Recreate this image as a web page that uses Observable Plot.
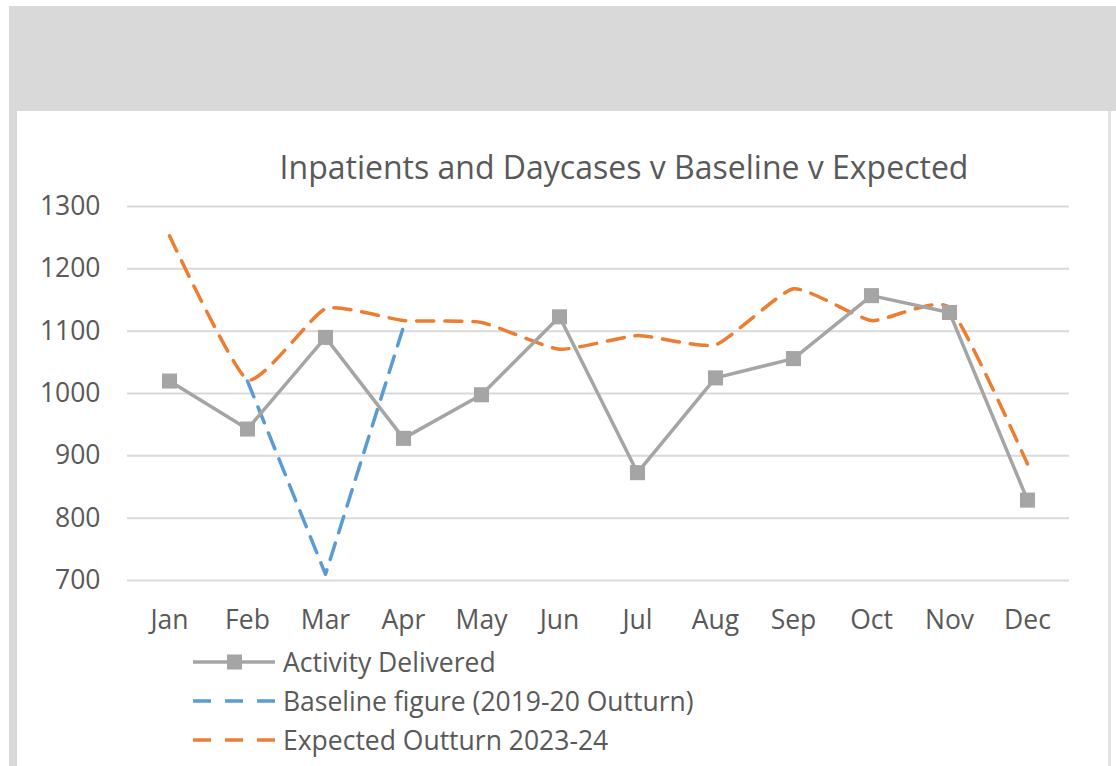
<!DOCTYPE html>
<html>
<head>
<meta charset="utf-8">
<script src="https://cdn.jsdelivr.net/npm/d3@7"></script>
<script src="https://cdn.jsdelivr.net/npm/@observablehq/plot@0.6"></script>
<style>
  html, body { margin: 0; padding: 0; background: #ffffff; }
  #page { position: relative; width: 1116px; height: 766px; overflow: hidden; background: #ffffff; font-family: "Open Sans", sans-serif; color: #595959; }
  .band-top { position: absolute; left: 9px; top: 6px; width: 1107px; height: 105px; background: #d9d9d9; }
  .band-left { position: absolute; left: 9px; top: 111px; width: 8px; height: 655px; background: #d9d9d9; }
  .band-right { position: absolute; left: 1108px; top: 111px; width: 3px; height: 655px; background: #e3e3e3; }
  #title { position: absolute; left: 124px; width: 1000px; top: 151px; text-align: center; font-size: 32px; line-height: 32px; color: #595959; white-space: nowrap; }
  #chart { position: absolute; left: 17px; top: 111px; }
  #legend { position: absolute; left: 193px; top: 642px; }
  .row { display: flex; align-items: center; height: 39px; font-size: 26.5px; line-height: 30px; color: #595959; white-space: nowrap; }
  .row svg { margin-right: 8px; display: block; }
</style>
</head>
<body>
<div id="page">
  <div class="band-top"></div>
  <div class="band-left"></div>
  <div class="band-right"></div>
  <div id="title"></div>
  <div id="chart"></div>
  <div id="legend"></div>
</div>
<script>
// ---- data ----
const months = ["Jan","Feb","Mar","Apr","May","Jun","Jul","Aug","Sep","Oct","Nov","Dec"];
const activityDelivered = [1020, 943, 1090, 928, 998, 1123, 873, 1025, 1056, 1157, 1130, 829];
const baselineFigure = [null, 1020, 710, 1107, null, null, null, null, null, null, null, null];
const expectedOutturn = [1253, 1022, 1136, 1117, 1114, 1071, 1093, 1078, 1168, 1117, 1138, 887];
const yTicks = [700, 800, 900, 1000, 1100, 1200, 1300];
const seriesNames = ["Activity Delivered", "Baseline figure (2019-20 Outturn)", "Expected Outturn 2023-24"];
const titleText = "Inpatients and Daycases v Baseline v Expected";

const colors = {activity: "#a5a5a5", baseline: "#5b9bd5", expected: "#ed7d31"};

const rows = months.map((m, i) => ({
  month: m,
  activity: activityDelivered[i],
  baseline: baselineFigure[i],
  expected: expectedOutturn[i]
}));
const baselineRows = rows.filter(d => d.baseline != null);

document.getElementById("title").textContent = titleText;

const chart = Plot.plot({
  width: 1091,
  height: 529,
  marginLeft: 110,
  marginRight: 39,
  marginTop: 95,
  marginBottom: 60,
  style: {background: "transparent", fontFamily: "Open Sans, sans-serif", fontSize: "26.5px", color: "#595959"},
  x: {type: "point", domain: months, padding: 0.5, label: null},
  y: {domain: [700, 1300], label: null},
  marks: [
    Plot.gridY(yTicks, {stroke: "#d9d9d9", strokeOpacity: 1, strokeWidth: 2}),
    Plot.axisY({ticks: yTicks, tickSize: 0, tickPadding: 27, label: null, tickFormat: d => String(d)}),
    Plot.axisX({tickSize: 0, tickPadding: 30, label: null}),
    Plot.line(rows, {x: "month", y: "expected", stroke: colors.expected, strokeWidth: 3.5, strokeDasharray: "17,11", curve: d3.curveCardinal.tension(0.5)}),
    Plot.line(baselineRows, {x: "month", y: "baseline", stroke: colors.baseline, strokeWidth: 3.5, strokeDasharray: "17,11"}),
    Plot.line(rows, {x: "month", y: "activity", stroke: colors.activity, strokeWidth: 3.5}),
    Plot.dot(rows, {x: "month", y: "activity", symbol: "square", r: 8.5, fill: colors.activity, stroke: "none"})
  ]
});
document.getElementById("chart").appendChild(chart);

// ---- legend ----
const legend = document.getElementById("legend");
const legendStyles = [
  {color: colors.activity, dash: null, marker: true},
  {color: colors.baseline, dash: "18,14", marker: false},
  {color: colors.expected, dash: "18,14", marker: false}
];
seriesNames.forEach((name, i) => {
  const st = legendStyles[i];
  const row = document.createElement("div");
  row.className = "row";
  const svg = d3.create("svg").attr("width", 82).attr("height", 20);
  svg.append("line").attr("x1", 0).attr("x2", 82).attr("y1", 10).attr("y2", 10)
    .attr("stroke", st.color).attr("stroke-width", 3.5)
    .attr("stroke-dasharray", st.dash);
  if (st.marker) svg.append("rect").attr("x", 34).attr("y", 2.5).attr("width", 15).attr("height", 15).attr("fill", st.color);
  row.appendChild(svg.node());
  const span = document.createElement("span");
  span.textContent = name;
  row.appendChild(span);
  legend.appendChild(row);
});
</script>
</body>
</html>
